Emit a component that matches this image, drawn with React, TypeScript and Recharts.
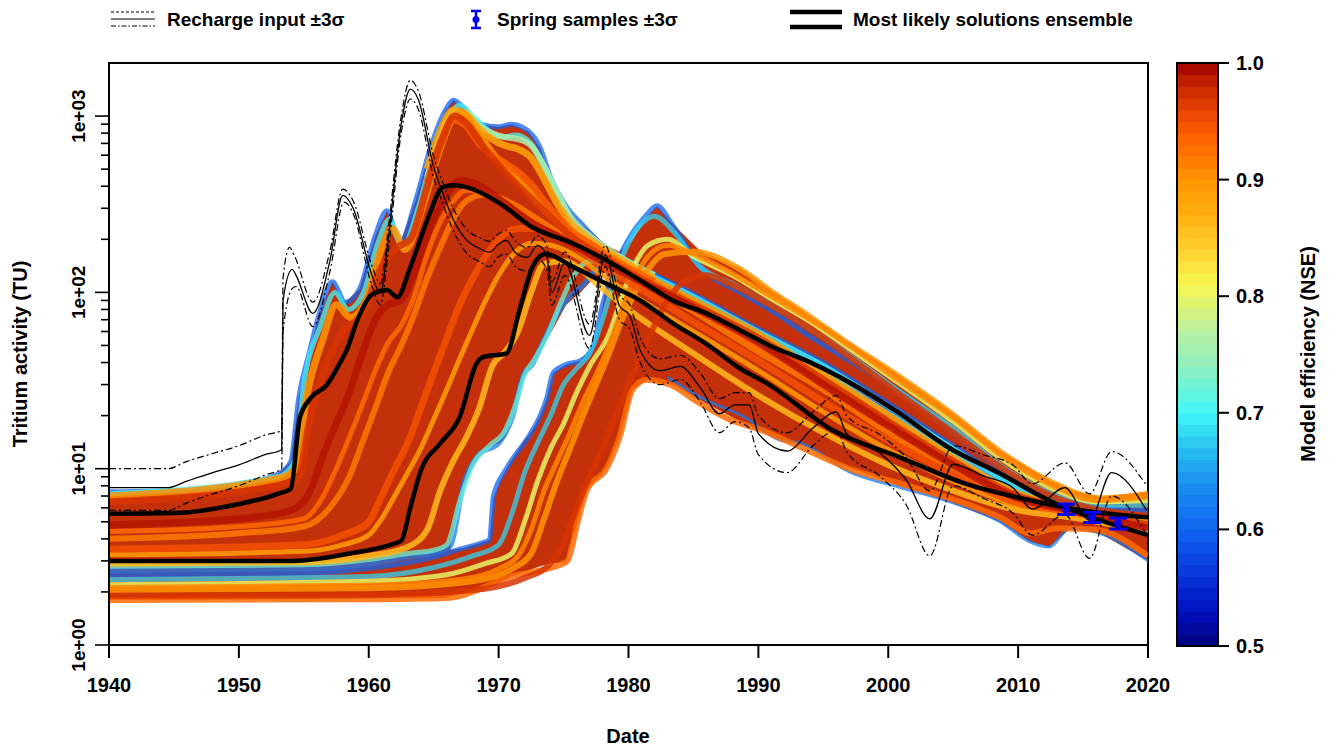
import { Area, ComposedChart, ErrorBar, Line, ReferenceArea, Scatter, XAxis, YAxis } from 'recharts';

type Pt = [number, number];
type Band = [number, number, number];

const FONT = '"Liberation Sans", Arial, Helvetica, sans-serif';

// axes
const decadeTicks = [1940, 1950, 1960, 1970, 1980, 1990, 2000, 2010, 2020];
const logTicks = [
  1, 2, 3, 4, 5, 6, 7, 8, 9, 10, 20, 30, 40, 50, 60, 70, 80, 90, 100, 200, 300, 400, 500, 600, 700, 800, 900, 1000,
];
const logLabels: Record<number, string> = { 1: '1e+00', 10: '1e+01', 100: '1e+02', 1000: '1e+03' };
const nseTicks = [0.5, 0.6, 0.7, 0.8, 0.9, 1.0];

// recharge input (TU) and its +-3 sigma envelope
const rechargeMid: Pt[] = [
  [1940, 7.8], [1944.5, 7.8], [1946, 8.5], [1948, 9.5], [1950, 10.5], [1952, 12], [1953.3, 12.8], [1953.4, 90],
  [1954.1, 135], [1954.4, 125], [1955.7, 76], [1957, 150], [1958, 355], [1958.8, 300], [1960.2, 128], [1960.9, 99],
  [1961.5, 200], [1962.5, 900], [1963.2, 1420], [1963.8, 1250], [1965, 515], [1965.7, 366], [1966.5, 260],
  [1967.6, 196], [1968.5, 178], [1969.3, 169], [1970, 188], [1970.6, 197], [1971.3, 168], [1972.2, 158], [1973, 185],
  [1973.7, 162], [1974.1, 100], [1975.1, 148], [1977, 57], [1978.2, 163], [1979.3, 84], [1980.1, 74], [1980.9, 47],
  [1982.4, 36], [1984, 38], [1985.5, 29], [1987, 20.5], [1988.2, 23], [1989.3, 23], [1990, 15.8], [1992.2, 12.6],
  [1994.2, 17], [1996, 21], [1996.8, 15.8], [1999.4, 12.2], [2001.4, 8.6], [2003.2, 5.2], [2005, 10.6],
  [2007.3, 9.1], [2009.6, 7.8], [2011.1, 5.9], [2013.6, 7.8], [2015.5, 5.1], [2017.2, 9.5], [2019.9, 5.8],
];
const rechargeHigh: Pt[] = [
  [1940, 10], [1944.5, 10], [1946, 11], [1948, 12.2], [1950, 13.5], [1952, 15.5], [1953.3, 16.5], [1953.4, 120],
  [1953.9, 180], [1954.3, 160], [1955.7, 88], [1957, 170], [1958, 385], [1958.8, 330], [1960.2, 145], [1960.9, 112],
  [1961.5, 230], [1962.5, 1000], [1963.2, 1600], [1963.8, 1400], [1965, 590], [1965.7, 420], [1966.5, 300],
  [1967.6, 225], [1968.5, 205], [1969.3, 195], [1970, 215], [1970.6, 225], [1971.3, 195], [1972.2, 180], [1973, 210],
  [1973.7, 185], [1974.1, 115], [1975.1, 170], [1977, 66], [1978.2, 185], [1979.3, 97], [1980.1, 85], [1980.9, 55],
  [1982.4, 42], [1984, 44], [1985.5, 35], [1987, 25], [1988.2, 27], [1989.3, 27], [1990, 20], [1992.2, 16],
  [1994.2, 21], [1996, 26], [1996.8, 20], [1999.4, 15.5], [2001.4, 11.5], [2003.2, 7.5], [2005, 13.5],
  [2007.3, 12], [2009.6, 10.5], [2011.1, 8.2], [2013.6, 10.8], [2015.5, 7.2], [2017.2, 12.5], [2019.9, 8],
];
const rechargeLow: Pt[] = [
  [1940, 5.8], [1944.5, 5.8], [1946, 6.4], [1948, 7.2], [1950, 8], [1952, 9.2], [1953.3, 10], [1953.4, 60],
  [1954.1, 105], [1954.4, 108], [1955.7, 64], [1957, 130], [1958.1, 325], [1958.8, 280], [1960.2, 112], [1960.9, 85],
  [1961.5, 170], [1962.5, 800], [1963.2, 1250], [1963.8, 1100], [1965, 450], [1965.7, 320], [1966.5, 225],
  [1967.6, 165], [1968.5, 150], [1969.3, 140], [1970, 160], [1970.6, 165], [1971.3, 140], [1972.2, 132], [1973, 155],
  [1973.7, 135], [1974.1, 85], [1975.1, 125], [1977, 48], [1978.2, 140], [1979.3, 70], [1980.1, 62], [1980.9, 40],
  [1982.4, 30], [1984, 32], [1985.5, 24], [1987, 16], [1988.2, 18.5], [1989.3, 17], [1990, 12], [1992.2, 9.5],
  [1994.2, 13.5], [1996, 16.5], [1996.8, 12.5], [1999.4, 9], [2001.4, 6.2], [2003.2, 3.2], [2005, 8],
  [2007.3, 6.8], [2009.6, 5.6], [2011.1, 4.2], [2013.6, 5.5], [2015.5, 3.1], [2017.2, 7], [2019.9, 4.2],
];

// most likely solutions
const bestFast: Pt[] = [
  [1940, 5.55], [1945, 5.6], [1950, 6.3], [1953, 7.2], [1954, 7.7], [1954.7, 19.5], [1955.5, 25], [1956.8, 30],
  [1957.8, 40], [1958.3, 47], [1959.1, 69], [1960.3, 98], [1961.4, 103], [1962.2, 94], [1963.2, 139], [1964.5, 256],
  [1965.7, 394], [1966.5, 405], [1967.6, 394], [1970.1, 320], [1972.6, 234], [1975.7, 190], [1978.3, 152],
  [1980.9, 117], [1983.4, 90], [1986, 76], [1988.6, 61], [1991.1, 49], [1993.7, 41], [1996.3, 33], [2000.9, 20.5],
  [2004.7, 13.1], [2008.6, 9.4], [2012.4, 6.6], [2016.3, 5.1], [2020, 4.2],
];
const bestSlow: Pt[] = [
  [1940, 3.0], [1954.2, 3.0], [1958.5, 3.3], [1961.9, 3.75], [1962.5, 3.9], [1963.2, 6.0], [1964, 9.7],
  [1965.5, 13.9], [1967, 19.6], [1968.3, 39.5], [1968.8, 43], [1970.6, 45], [1971.6, 79], [1972.6, 139],
  [1973.6, 165], [1975.7, 140], [1978.3, 112], [1980.9, 90], [1983.4, 67], [1986, 51], [1988.6, 37],
  [1990.7, 30.4], [1995.8, 16.4], [2000.9, 11.6], [2006, 8.2], [2011, 6.6], [2015, 5.8], [2020, 5.3],
];

// ensemble members (representative strands)
const topFringeBlue: Pt[] = [
  [1940, 7.4], [1945, 7.5], [1950, 8.2], [1953, 9.3], [1954, 11], [1954.6, 25], [1955.4, 45], [1956.2, 76],
  [1957.2, 115], [1958.2, 88], [1959.3, 105], [1960.5, 210], [1961.4, 290], [1962.4, 190], [1963.6, 330],
  [1964.8, 680], [1965.9, 1080], [1966.5, 1230], [1967.3, 1120], [1968.6, 900], [1970, 870], [1971, 900],
  [1972.3, 820], [1973.2, 660], [1974, 450], [1975.3, 300], [1976.5, 240], [1978, 185], [1980, 150], [1985, 98],
  [1990, 62], [1995, 40], [2000, 23.5], [2005, 13.5], [2010, 8], [2014, 6.3], [2020, 5],
];
const topFringeCyan: Pt[] = [
  [1940, 7.2], [1953, 9], [1954.3, 11], [1955, 30], [1956.3, 65], [1957.4, 100], [1958.4, 80], [1959.6, 100],
  [1960.7, 190], [1961.6, 260], [1962.6, 180], [1963.8, 300], [1965, 620], [1966.2, 1000], [1967, 1150],
  [1968, 1000], [1969.3, 820], [1970.3, 760], [1971.3, 780], [1972.5, 700], [1973.5, 520], [1974.5, 360],
  [1975.7, 250], [1977, 200], [1979, 160], [1985, 95], [1990, 60], [1995, 38.5], [2000, 22.5], [2005, 13],
  [2010, 7.8], [2014, 6.1], [2020, 5.3],
];
const fastOrange: Pt[] = [
  [1940, 7.0], [1953, 8.8], [1954.4, 10], [1955.2, 25], [1956.5, 55], [1957.5, 85], [1958.6, 72], [1959.8, 90],
  [1960.9, 170], [1961.8, 230], [1962.8, 175], [1964, 280], [1965.2, 560], [1966.4, 950], [1967.2, 1050],
  [1968.2, 850], [1969.5, 620], [1971, 480], [1972.5, 360], [1974, 270], [1976, 210], [1978, 170], [1980, 140],
  [1985, 90], [1990, 58], [1995, 34], [2000, 20], [2005, 11.5], [2010, 7.2], [2014, 6], [2020, 5.0],
];
const fastRed: Pt[] = [
  [1940, 6.5], [1953, 8.0], [1954.6, 9], [1955.4, 18], [1956.8, 40], [1958, 60], [1959.5, 75], [1961, 140],
  [1962.2, 180], [1963.2, 200], [1964.5, 400], [1965.7, 750], [1966.6, 1000], [1967.6, 900], [1969, 640],
  [1970.6, 470], [1972, 370], [1973.5, 290], [1975.7, 205], [1978, 160], [1980, 130], [1985, 85], [1990, 55],
  [1995, 32], [2000, 18.5], [2005, 11], [2010, 7], [2014, 5.9], [2020, 4.8],
];
const fastDarkRed: Pt[] = [
  [1940, 4.8], [1950, 5.2], [1954, 5.8], [1955.5, 7.5], [1956.5, 12], [1957.5, 18], [1958.5, 27], [1959.5, 45],
  [1960.5, 70], [1961.5, 85], [1962.5, 90], [1963.5, 130], [1964.7, 230], [1966, 360], [1967, 430], [1968, 420],
  [1970, 340], [1972.5, 250], [1975, 200], [1978, 150], [1980, 125], [1985, 82], [1990, 52], [1995, 30],
  [2000, 17.5], [2005, 10.5], [2010, 6.8], [2014, 5.8], [2020, 4.6],
];
const fastStreakUpper: Pt[] = [
  [1940, 4.4], [1950, 4.7], [1955, 5.2], [1956.5, 7], [1957.5, 10], [1958.5, 15], [1959.5, 23], [1960.5, 36],
  [1961.5, 52], [1962.5, 65], [1963.5, 95], [1964.5, 165], [1965.5, 250], [1966.5, 330], [1967.5, 380], [1969, 370],
  [1971, 300], [1973, 240], [1975, 200], [1978, 155], [1980, 128], [1985, 80], [1990, 49], [1995, 29], [2000, 16.8],
  [2005, 10.2], [2010, 6.7], [2014, 5.75], [2020, 4.6],
];
const fastMidOrange: Pt[] = [
  [1940, 4.0], [1950, 4.3], [1955, 4.7], [1957, 6], [1958.5, 9], [1959.5, 14], [1960.5, 22], [1961.5, 35],
  [1962.5, 50], [1963.5, 75], [1964.5, 120], [1965.5, 180], [1966.5, 260], [1967.5, 330], [1969, 360], [1971, 320],
  [1973, 260], [1975, 210], [1978, 160], [1980, 130], [1985, 78], [1990, 46], [1995, 28], [2000, 16], [2005, 10],
  [2010, 6.6], [2014, 5.7], [2020, 4.6],
];
const fastLowRed: Pt[] = [
  [1940, 3.5], [1955, 3.7], [1958, 4.2], [1960, 5], [1961, 7], [1962, 10], [1963, 14], [1964, 22], [1965, 35],
  [1966, 55], [1967, 85], [1968, 120], [1969, 160], [1970, 200], [1971.5, 230], [1973, 230], [1975, 200],
  [1978, 140], [1980, 115], [1985, 68], [1990, 41], [1995, 24], [2000, 14.5], [2005, 9.3], [2010, 6.4],
  [2014, 5.7], [2020, 4.6],
];
const fastStreakLower: Pt[] = [
  [1940, 3.25], [1955, 3.4], [1958, 3.7], [1960, 4.2], [1961, 5.2], [1962, 7], [1963, 9.5], [1964, 13], [1965, 19],
  [1966, 28], [1967, 42], [1968, 62], [1969, 90], [1970, 125], [1971, 160], [1972.5, 190], [1974, 185], [1976, 160],
  [1978, 125], [1980, 100], [1985, 60], [1990, 36], [1995, 21], [2000, 12.8], [2005, 8.5], [2010, 6.2], [2014, 5.5],
  [2020, 4.6],
];
const fastRightYellow: Pt[] = [
  [1940, 2.9], [1955, 2.95], [1960, 3.2], [1963, 3.6], [1964.5, 4.5], [1965.5, 7.5], [1966.5, 11], [1967.5, 15],
  [1968.5, 22], [1969.5, 38], [1970.5, 46], [1971.5, 60], [1972.5, 100], [1973.5, 145], [1975, 150], [1978, 105],
  [1980, 80], [1985, 45], [1990, 26], [1995, 16], [2000, 10.5], [2005, 7.5], [2010, 5.8], [2014, 5.3], [2020, 4.4],
];
const fastRightCyan: Pt[] = [
  [1940, 2.8], [1955, 2.85], [1960, 3.05], [1963, 3.3], [1965, 3.45], [1966, 3.7], [1967, 6.5], [1968, 10.5],
  [1969.3, 13.5], [1970.5, 16.5], [1971.3, 23], [1972, 34], [1972.8, 42], [1973.8, 58], [1974.8, 88],
  [1975.8, 125], [1977, 150], [1979, 135], [1982, 105], [1985, 80], [1990, 53], [1995, 35], [2000, 20.5],
  [2005, 12], [2010, 7.2], [2014, 5.8], [2020, 4.5],
];
const fastRightBlue: Pt[] = [
  [1940, 2.65], [1955, 2.7], [1960, 2.88], [1963, 3.15], [1965.5, 3.4], [1966.3, 3.65], [1967.3, 8.2],
  [1968.4, 11.8], [1970.1, 14.2], [1971.1, 20], [1971.9, 34], [1972.6, 39], [1973.5, 54], [1974.5, 75],
  [1975.5, 95], [1976.5, 110], [1977.6, 140], [1978.5, 165], [1980, 150], [1983, 115], [1986, 85], [1990, 58],
  [1995, 38], [2000, 22], [2005, 12.5], [2010, 7.5], [2014, 6], [2020, 4.6],
];
const lateOrange: Pt[] = [
  [1964.5, 500], [1965.5, 820], [1966.5, 1080], [1967.5, 1020], [1968.5, 850], [1969.5, 740], [1970.5, 680],
  [1971.5, 650], [1972.5, 580], [1973.5, 440], [1974.5, 320], [1975.5, 250], [1977, 200], [1979, 160], [1982, 120],
];
const lateGreen: Pt[] = [
  [1964.5, 450], [1965.5, 760], [1966.5, 1050], [1967.5, 1050], [1968.5, 880], [1969.5, 800], [1970.5, 760],
  [1971.5, 740], [1972.5, 680], [1973.5, 520], [1974.5, 370], [1975.5, 270], [1977, 210], [1979, 165], [1982, 125],
];
const lateRed: Pt[] = [
  [1964.5, 420], [1965.5, 700], [1966.5, 950], [1967.5, 880], [1968.5, 700], [1969.5, 600], [1970.5, 540],
  [1971.5, 480], [1972.5, 410], [1973.5, 330], [1974.5, 270], [1975.5, 225], [1977, 190], [1979, 150], [1982, 115],
];
const slowBlue: Pt[] = [
  [1940, 2.5], [1955, 2.55], [1960, 2.72], [1965, 3.15], [1967, 3.5], [1968.5, 3.75], [1969.3, 3.95], [1969.6, 7],
  [1970.6, 10], [1972.4, 15.6], [1973.2, 20], [1973.7, 25], [1974.2, 35], [1975.2, 39], [1976.3, 41], [1977.3, 50],
  [1978, 85], [1978.8, 130], [1980, 200], [1981.2, 265], [1982.2, 310], [1983.4, 240], [1985.5, 140],
  [1988.6, 100], [1991.1, 78], [1993.7, 58], [1996.3, 44], [2000.9, 27], [2004.7, 16.5], [2008.6, 10],
  [2012.4, 6.8], [2016.3, 6], [2020, 5.8],
];
const slowCyan: Pt[] = [
  [1940, 2.35], [1960, 2.45], [1965, 2.75], [1968, 3.2], [1970, 3.7], [1971, 5.5], [1972, 9.5], [1973, 14],
  [1974, 20], [1975, 30], [1976, 37], [1977, 45], [1978, 70], [1979, 125], [1980, 190], [1981, 245], [1982, 270],
  [1983.5, 220], [1985.5, 140], [1988, 112], [1991, 85], [1994, 62], [1997, 44], [2001, 27], [2005, 17],
  [2009, 10], [2013, 7], [2016, 6.2], [2020, 6.2],
];
const slowYellow: Pt[] = [
  [1940, 2.2], [1960, 2.3], [1966, 2.5], [1969, 2.9], [1971, 3.3], [1972, 5], [1973, 8.5], [1974, 13], [1975, 18],
  [1976, 27], [1977, 38], [1978.5, 58], [1979.5, 95], [1980.5, 145], [1981.5, 185], [1983, 200], [1985, 160],
  [1988, 125], [1991, 92], [1994, 68], [1997, 48], [2001, 30], [2005, 18.5], [2009, 11], [2013, 7.5], [2016, 6.5],
  [2020, 6.6],
];
const slowStreak: Pt[] = [
  [1940, 2.12], [1960, 2.18], [1967, 2.35], [1970, 2.7], [1971.5, 3.2], [1972.5, 4.5], [1973.5, 7.5], [1974.5, 11],
  [1975.5, 16], [1976.5, 24], [1977.5, 34], [1978.5, 50], [1979.5, 80], [1980.5, 120], [1981.5, 160], [1983, 185],
  [1985, 165], [1988, 128], [1991, 95], [1994, 70], [1997, 50], [2001, 31], [2005, 19.5], [2009, 11.5], [2013, 7.8],
  [2016, 6.6], [2020, 6.9],
];
const slowOrange: Pt[] = [
  [1940, 2.05], [1960, 2.1], [1968, 2.3], [1971, 2.7], [1972.5, 3.3], [1973.5, 5.2], [1974.5, 8.5], [1975.5, 13],
  [1976.5, 20], [1977.5, 30], [1978.5, 45], [1979.5, 70], [1980.5, 100], [1981.5, 135], [1982.8, 165], [1985, 170],
  [1988.6, 135], [1991.1, 100], [1993.7, 75], [1996.3, 55], [2000.9, 33], [2004.7, 21], [2008.6, 12.5],
  [2012.4, 8.5], [2016.3, 6.8], [2020, 7.2],
];
const slowRed: Pt[] = [
  [1940, 1.9], [1960, 1.92], [1968, 2.05], [1972, 2.4], [1974, 2.9], [1975, 3.8], [1976, 6], [1977, 9], [1978, 13],
  [1979, 20], [1980, 30], [1981, 45], [1982, 65], [1983, 90], [1984.5, 118], [1986, 125], [1988, 110], [1991, 84],
  [1994, 62], [1997, 43], [2001, 26], [2005, 16], [2009, 9.8], [2013, 6.8], [2016, 5.9], [2020, 5.4],
];
const slowBottom: Pt[] = [
  [1940, 1.8], [1960, 1.82], [1966, 1.85], [1971, 2.45], [1975.2, 2.95], [1976.2, 5.4], [1976.8, 7.6],
  [1978.3, 10], [1979.3, 15], [1980.3, 28], [1981.4, 32], [1983.2, 30], [1985.3, 24], [1987.8, 19], [1990.3, 16.5],
  [1993, 13.5], [1997, 10], [2001, 8.2], [2005, 6.7], [2008.6, 5.3], [2011, 4.3], [2013, 4.6], [2016, 4.5],
  [2020, 3.2],
];
const bottomFringe: Pt[] = [
  [1983, 33], [1985.5, 25.5], [1989, 19.5], [1991.7, 14.5], [1993.2, 14], [1997, 9.6], [2001, 7.8], [2005, 6.4],
  [2008.6, 5], [2010.9, 3.85], [2012.4, 3.6], [2014, 4.6], [2016.3, 4.3], [2020, 3.0],
];

// filled envelope of the ensemble and the empty channel inside it: [year, low, high]
const ensembleEnvelope: Band[] = [
  [1940, 1.8, 7.4], [1945, 1.8, 7.5], [1950, 1.81, 8.2], [1953, 1.81, 9.3], [1954, 1.82, 11], [1954.6, 1.82, 25],
  [1955.4, 1.82, 45], [1956.2, 1.82, 76], [1957.2, 1.83, 115], [1958.2, 1.83, 88], [1959.3, 1.83, 105],
  [1960.5, 1.83, 210], [1961.4, 1.84, 290], [1962.4, 1.84, 190], [1963.6, 1.84, 330], [1964.8, 1.85, 680],
  [1965.9, 1.85, 1080], [1966.5, 1.9, 1230], [1967.3, 1.95, 1120], [1968.6, 2.1, 900], [1970, 2.25, 870],
  [1971, 2.45, 900], [1972.3, 2.65, 820], [1973.2, 2.8, 660], [1974, 2.9, 450], [1975.2, 2.95, 300],
  [1976.2, 5.4, 245], [1976.8, 7.6, 230], [1978.3, 10, 185], [1979.3, 15, 170], [1980.3, 28, 200],
  [1981.4, 32, 268], [1982.2, 31, 310], [1983.4, 30, 245], [1985.5, 24.5, 172], [1988.6, 18.5, 137],
  [1991.1, 15.3, 101], [1993.7, 13.4, 76], [1996.3, 10.6, 56], [2000.9, 8, 33.5], [2004.7, 6.5, 21.3],
  [2008.6, 5, 12.7], [2010.9, 3.85, 10], [2012.4, 3.6, 8.6], [2014, 4.6, 7.6], [2016.3, 4.3, 6.9], [2020, 3.0, 7.4],
];
const ensembleGap: Band[] = [
  [1966.3, 3.45, 3.7], [1967.3, 3.55, 8.0], [1968.4, 3.75, 11.5], [1969.3, 3.95, 13.2], [1969.6, 6.8, 13.5],
  [1970.1, 8.5, 14.0], [1970.6, 10.0, 15.5], [1971.1, 11.5, 19.5], [1971.9, 14.2, 33], [1972.6, 16.5, 38],
  [1973.2, 20, 46], [1973.7, 25, 54], [1974.2, 35, 62], [1975.2, 39, 85], [1976.3, 41, 100], [1977.3, 50, 120],
  [1977.9, 75, 125], [1978.3, 110, 130],
];

// spring samples
const springYears = [2013.7, 2015.7, 2017.7];
const springValues = [5.9, 5.3, 4.9];
const springErrors = [0.4, 0.35, 0.35];

const members = [
  { id: 'slowBlue', nse: 0.6, w: 5, pts: slowBlue },
  { id: 'fastRightBlue', nse: 0.62, w: 5, pts: fastRightBlue },
  { id: 'bottomFringe', nse: 0.62, w: 3, pts: bottomFringe },
  { id: 'topFringeBlue', nse: 0.6, w: 5, pts: topFringeBlue },
  { id: 'slowCyan', nse: 0.68, w: 5, pts: slowCyan },
  { id: 'topFringeCyan', nse: 0.7, w: 5, pts: topFringeCyan },
  { id: 'fastRightCyan', nse: 0.72, w: 5, pts: fastRightCyan },
  { id: 'lateGreen', nse: 0.76, w: 6, pts: lateGreen },
  { id: 'slowYellow', nse: 0.8, w: 5, pts: slowYellow },
  { id: 'fastRightYellow', nse: 0.86, w: 6, pts: fastRightYellow },
  { id: 'lateOrange', nse: 0.88, w: 7, pts: lateOrange },
  { id: 'fastStreakLower', nse: 0.89, w: 5, pts: fastStreakLower },
  { id: 'fastOrange', nse: 0.9, w: 7, pts: fastOrange },
  { id: 'slowOrange', nse: 0.9, w: 6, pts: slowOrange },
  { id: 'slowStreak', nse: 0.91, w: 5, pts: slowStreak },
  { id: 'fastMidOrange', nse: 0.92, w: 6, pts: fastMidOrange },
  { id: 'slowBottom', nse: 0.93, w: 6, pts: slowBottom },
  { id: 'fastStreakUpper', nse: 0.93, w: 5, pts: fastStreakUpper },
  { id: 'lateRed', nse: 0.94, w: 7, pts: lateRed },
  { id: 'fastLowRed', nse: 0.95, w: 7, pts: fastLowRed },
  { id: 'fastRed', nse: 0.97, w: 7, pts: fastRed },
  { id: 'slowRed', nse: 0.97, w: 6, pts: slowRed },
  { id: 'fastDarkRed', nse: 0.99, w: 7, pts: fastDarkRed },
];

const cmapStops: [number, string][] = [
  [0.5, '#00007a'], [0.53, '#0010c0'], [0.57, '#0a40e0'], [0.6, '#1064f0'], [0.64, '#1a90f0'], [0.67, '#28c0f0'],
  [0.7, '#40f8f8'], [0.74, '#90f0c0'], [0.77, '#b8f0a0'], [0.81, '#f8f850'], [0.84, '#ffd030'], [0.87, '#ffb010'],
  [0.9, '#ff9400'], [0.93, '#ff6a00'], [0.95, '#f45000'], [0.97, '#d83400'], [0.985, '#c01e00'], [1.0, '#a00000'],
];

const hexToRgb = (h: string) => [1, 3, 5].map((i) => parseInt(h.slice(i, i + 2), 16));

function nseColor(v: number): string {
  const c = Math.max(0.5, Math.min(1, v));
  for (let i = 1; i < cmapStops.length; i++) {
    const [v1, h1] = cmapStops[i];
    if (c <= v1) {
      const [v0, h0] = cmapStops[i - 1];
      const f = (c - v0) / (v1 - v0);
      const a = hexToRgb(h0);
      const b = hexToRgb(h1);
      const rgb = a.map((x, k) => Math.round(x + (b[k] - x) * f));
      return `rgb(${rgb.join(',')})`;
    }
  }
  return cmapStops[cmapStops.length - 1][1];
}

const toRows = (pts: Pt[]) => pts.map(([t, v]) => ({ t, v }));
const toBand = (rows: Band[]) => rows.map(([t, lo, hi]) => ({ t, r: [lo, hi] }));

function YTick({ x, y, payload }: any) {
  const label = logLabels[payload.value];
  return (
    <g>
      <line x1={x - (label ? 14 : 8)} x2={x} y1={y} y2={y} stroke="#000" strokeWidth={1.6} />
      {label && (
        <text
          transform={`translate(${x - 31},${y}) rotate(-90)`}
          textAnchor="middle"
          dominantBaseline="central"
          fontFamily={FONT}
          fontWeight="bold"
          fontSize={19}
          fill="#000"
        >
          {label}
        </text>
      )}
    </g>
  );
}

function XTick({ x, y, payload }: any) {
  return (
    <text x={x} y={y + 34} textAnchor="middle" fontFamily={FONT} fontWeight="bold" fontSize={20} fill="#000">
      {payload.value}
    </text>
  );
}

const CB_X = 1177;
const CB_W = 41;
const CB_TOP = 63;
const CB_BOTTOM = 646;
const cbY = (v: number) => CB_BOTTOM - ((v - 0.5) / 0.5) * (CB_BOTTOM - CB_TOP);

function Overlay() {
  const bands = Array.from({ length: 50 }, (_, i) => 0.5 + i * 0.01);
  const txt = { fontFamily: FONT, fontWeight: 'bold' as const, fill: '#000' };
  return (
    <svg
      width={1336}
      height={749}
      style={{ position: 'absolute', left: 0, top: 0, pointerEvents: 'none' }}
    >
      {/* legend */}
      <line x1={111} x2={155} y1={12} y2={12} stroke="#000" strokeWidth={1.2} strokeDasharray="3 2" />
      <line x1={111} x2={155} y1={19} y2={19} stroke="#000" strokeWidth={1.2} />
      <line x1={111} x2={155} y1={26} y2={26} stroke="#000" strokeWidth={1.2} strokeDasharray="5 2 1.5 2" />
      <text x={167} y={19} dominantBaseline="central" fontSize={19} {...txt}>Recharge input ±3σ</text>
      <line x1={476} x2={476} y1={11} y2={28} stroke="#0000ee" strokeWidth={2.5} />
      <line x1={471} x2={481} y1={11} y2={11} stroke="#0000ee" strokeWidth={2.5} />
      <line x1={471} x2={481} y1={28} y2={28} stroke="#0000ee" strokeWidth={2.5} />
      <circle cx={476} cy={19.5} r={3.5} fill="#0000ee" />
      <text x={497} y={19} dominantBaseline="central" fontSize={19} {...txt}>Spring samples ±3σ</text>
      <line x1={790} x2={842} y1={12} y2={12} stroke="#000" strokeWidth={4.5} />
      <line x1={790} x2={842} y1={27} y2={27} stroke="#000" strokeWidth={4.5} />
      <text x={853} y={19} dominantBaseline="central" fontSize={19} {...txt}>Most likely solutions ensemble</text>

      {/* axis titles */}
      <text x={628} y={736} textAnchor="middle" dominantBaseline="central" fontSize={20} {...txt}>Date</text>
      <text
        transform="translate(20,354) rotate(-90)"
        textAnchor="middle"
        dominantBaseline="central"
        fontSize={20}
        {...txt}
      >
        Tritium activity (TU)
      </text>

      {/* colour bar */}
      {bands.map((v) => (
        <rect
          key={v}
          x={CB_X}
          y={cbY(v + 0.01)}
          width={CB_W}
          height={cbY(v) - cbY(v + 0.01) + 0.6}
          fill={nseColor(v + 0.005)}
        />
      ))}
      <rect x={CB_X} y={CB_TOP} width={CB_W} height={CB_BOTTOM - CB_TOP} fill="none" stroke="#000" strokeWidth={2} />
      {nseTicks.map((v) => (
        <g key={v}>
          <line x1={CB_X + CB_W} x2={CB_X + CB_W + 11} y1={cbY(v)} y2={cbY(v)} stroke="#000" strokeWidth={2} />
          <text x={1236} y={cbY(v)} dominantBaseline="central" fontSize={20} {...txt}>
            {v.toFixed(1)}
          </text>
        </g>
      ))}
      <text
        transform="translate(1308,354) rotate(-90)"
        textAnchor="middle"
        dominantBaseline="central"
        fontSize={20}
        {...txt}
      >
        Model efficiency (NSE)
      </text>
    </svg>
  );
}

export default function App() {
  const envelope = toBand(ensembleEnvelope);
  const gap = toBand(ensembleGap);
  const springData = springYears.map((t, i) => ({ t, v: springValues[i], e: springErrors[i] }));

  return (
    <div style={{ position: 'absolute', left: 0, top: 0, width: 1336, height: 749, background: '#fff' }}>
      <ComposedChart width={1336} height={749} margin={{ top: 63, right: 188, bottom: 0, left: 0 }}>
        <XAxis
          type="number"
          dataKey="t"
          domain={[1940, 2020]}
          allowDataOverflow
          ticks={decadeTicks}
          interval={0}
          height={104}
          tickSize={13}
          tickMargin={0}
          tick={<XTick />}
          tickLine={{ stroke: '#000', strokeWidth: 2 }}
          axisLine={{ stroke: '#000', strokeWidth: 2 }}
        />
        <YAxis
          type="number"
          scale="log"
          domain={[1, 2000]}
          allowDataOverflow
          ticks={logTicks}
          interval={0}
          width={109}
          tickSize={0}
          tickMargin={0}
          tickLine={false}
          tick={<YTick />}
          axisLine={{ stroke: '#000', strokeWidth: 2 }}
        />
        <Area
          data={envelope}
          dataKey="r"
          type="linear"
          stroke="none"
          fill="#c4300a"
          fillOpacity={1}
          isAnimationActive={false}
        />
        <Area
          data={gap}
          dataKey="r"
          type="linear"
          stroke="none"
          fill="#ffffff"
          fillOpacity={1}
          isAnimationActive={false}
        />
        {members.map((m) => (
          <Line
            key={m.id}
            data={toRows(m.pts)}
            dataKey="v"
            type="monotone"
            stroke={nseColor(m.nse)}
            strokeWidth={m.w}
            strokeOpacity={m.nse < 0.75 ? 0.75 : 0.85}
            dot={false}
            activeDot={false}
            isAnimationActive={false}
          />
        ))}
        <Line data={toRows(bestFast)} dataKey="v" type="monotone" stroke="#000" strokeWidth={4.5} dot={false} isAnimationActive={false} />
        <Line data={toRows(bestSlow)} dataKey="v" type="monotone" stroke="#000" strokeWidth={4.5} dot={false} isAnimationActive={false} />
        <Line
          data={toRows(rechargeHigh)}
          dataKey="v"
          type="monotone"
          stroke="#000"
          strokeWidth={1.2}
          strokeDasharray="7 3 2 3"
          dot={false}
          isAnimationActive={false}
        />
        <Line
          data={toRows(rechargeLow)}
          dataKey="v"
          type="monotone"
          stroke="#000"
          strokeWidth={1.2}
          strokeDasharray="7 3 2 3"
          dot={false}
          isAnimationActive={false}
        />
        <Line data={toRows(rechargeMid)} dataKey="v" type="monotone" stroke="#000" strokeWidth={1.3} dot={false} isAnimationActive={false} />
        <Scatter
          data={springData}
          dataKey="v"
          fill="#0000ee"
          isAnimationActive={false}
          shape={(p: any) => <circle cx={p.cx} cy={p.cy} r={4} fill="#0000ee" />}
        >
          <ErrorBar dataKey="e" direction="y" width={9} stroke="#0000ee" strokeWidth={3} />
        </Scatter>
        <ReferenceArea
          x1={1940}
          x2={2020}
          y1={1}
          y2={2000}
          fill="none"
          fillOpacity={0}
          stroke="#000"
          strokeWidth={2}
          ifOverflow="visible"
        />
      </ComposedChart>
      <Overlay />
    </div>
  );
}
